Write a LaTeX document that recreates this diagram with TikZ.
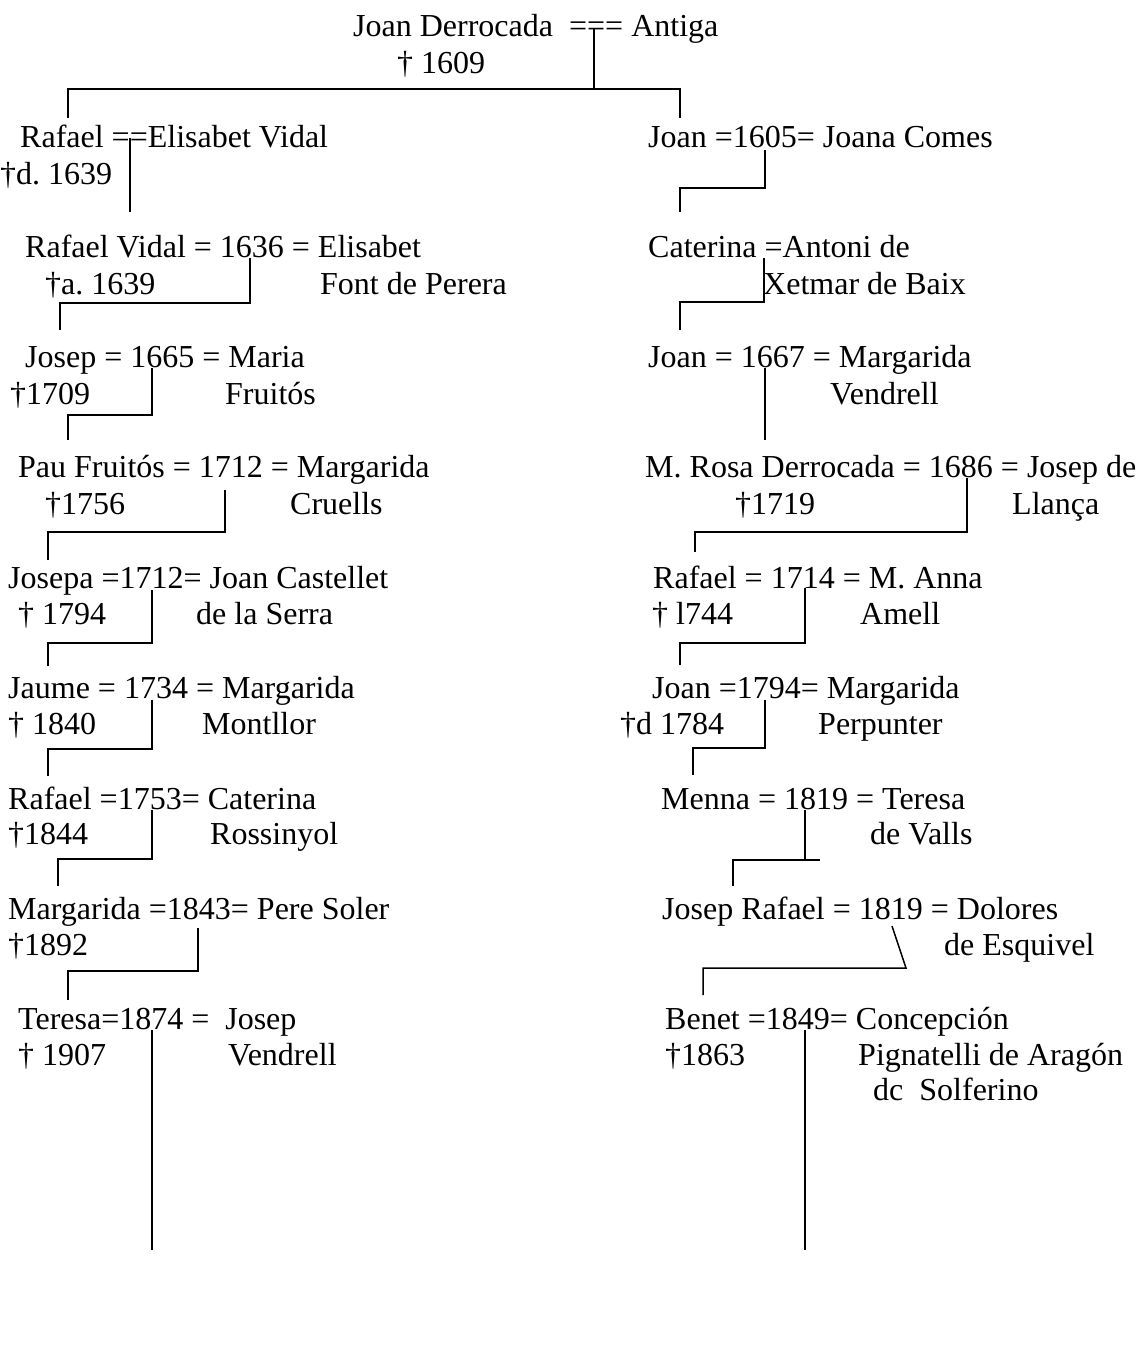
\documentclass[tikz,border=0pt]{standalone}
\usepackage{fontspec}
\setmainfont{Liberation Serif}
\usepackage{tikz}
\frenchspacing

\begin{document}
\begin{tikzpicture}[x=1pt, y=-1pt,
		person/.style={anchor=base west, inner sep=0pt, yshift=-2pt, font=\fontsize{32}{38}\selectfont},
		descent/.style={line width=1.5pt}]
		\useasboundingbox (0,0) rectangle (1143,1362);

		% Root couple
		\node[person] (top) at (353,35) {Joan Derrocada~\ === Antiga};
		\node[person] (topd) at (397,72) {† 1609};

		% Left line
		\node[person] (L1) at (20,145) {Rafael ==Elisabet Vidal};
		\node[person] (L1d) at (0,182) {†d. 1639};
		\node[person] (L2) at (25,255) {Rafael Vidal = 1636 = Elisabet};
		\node[person] (L2d) at (45,292) {†a. 1639};
		\node[person] (L2s) at (320,292) {Font de Perera};
		\node[person] (L3) at (25,365) {Josep = 1665 = Maria};
		\node[person] (L3d) at (10,402) {†1709};
		\node[person] (L3s) at (225,402) {Fruitós};
		\node[person] (L4) at (18,475) {Pau Fruitós = 1712 = Margarida};
		\node[person] (L4d) at (45,512) {†1756};
		\node[person] (L4s) at (290,512) {Cruells};
		\node[person] (L5) at (8,586) {Josepa =1712= Joan Castellet};
		\node[person] (L5d) at (18,622) {† 1794};
		\node[person] (L5s) at (196,622) {de la Serra};
		\node[person] (L6) at (8,696) {Jaume = 1734 = Margarida};
		\node[person] (L6d) at (8,732) {† 1840};
		\node[person] (L6s) at (202,732) {Montllor};
		\node[person] (L7) at (8,807) {Rafael =1753= Caterina};
		\node[person] (L7d) at (8,842) {†1844};
		\node[person] (L7s) at (210,842) {Rossinyol};
		\node[person] (L8) at (8,917) {Margarida =1843= Pere Soler};
		\node[person] (L8d) at (8,953) {†1892};
		\node[person] (L9) at (18,1027) {Teresa=1874 =~\ Josep};
		\node[person] (L9d) at (18,1063) {† 1907};
		\node[person] (L9s) at (228,1063) {Vendrell};

		% Right line
		\node[person] (R1) at (648,145) {Joan =1605= Joana Comes};
		\node[person] (R2) at (648,255) {Caterina =Antoni de};
		\node[person] (R2s) at (763,292) {Xetmar de Baix};
		\node[person] (R3) at (648,365) {Joan = 1667 = Margarida};
		\node[person] (R3s) at (830,402) {Vendrell};
		\node[person] (R4) at (645,475) {M. Rosa Derrocada = 1686 = Josep de};
		\node[person] (R4d) at (735,512) {†1719};
		\node[person] (R4s) at (1012,512) {Llança};
		\node[person] (R5) at (653,586) {Rafael = 1714 = M. Anna};
		\node[person] (R5d) at (652,622) {† l744};
		\node[person] (R5s) at (860,622) {Amell};
		\node[person] (R6) at (652,696) {Joan =1794= Margarida};
		\node[person] (R6d) at (620,732) {†d 1784};
		\node[person] (R6s) at (818,732) {Perpunter};
		\node[person] (R7) at (661,807) {Menna = 1819 = Teresa};
		\node[person] (R7s) at (870,842) {de Valls};
		\node[person] (R8) at (662,917) {Josep Rafael = 1819 = Dolores};
		\node[person] (R8s) at (944,953) {de Esquivel};
		\node[person] (R9) at (665,1027) {Benet =1849= Concepción};
		\node[person] (R9d) at (665,1063) {†1863};
		\node[person] (R9s) at (858,1063) {Pignatelli de Aragón};
		\node[person] (R9t) at (873,1098) {dc~\ Solferino};

		% Marriage points and child tops
		\coordinate (m0) at (594,28);
		\coordinate (b0) at (680,89);
		\coordinate (cL1) at (68,118);
		\coordinate (cR1) at (680,118);
		\coordinate (mL1) at (130,138);
		\coordinate (cL2) at (130,212);
		\coordinate (mR1) at (765,150);
		\coordinate (bR1) at (680,188);
		\coordinate (cR2) at (680,212);
		\coordinate (mL2) at (250,258);
		\coordinate (bL2) at (60,303);
		\coordinate (cL3) at (60,330);
		\coordinate (mR2) at (764,258);
		\coordinate (bR2) at (680,302);
		\coordinate (cR3) at (680,330);
		\coordinate (mL3) at (152,368);
		\coordinate (bL3) at (68,415);
		\coordinate (cL4) at (68,440);
		\coordinate (mR3) at (765,368);
		\coordinate (cR4) at (765,440);
		\coordinate (mL4) at (225,490);
		\coordinate (bL4) at (48,532);
		\coordinate (cL5) at (48,560);
		\coordinate (mR4) at (967,478);
		\coordinate (bR4) at (695,532);
		\coordinate (cR5) at (695,552);
		\coordinate (mL5) at (152,590);
		\coordinate (bL5) at (48,643);
		\coordinate (cL6) at (48,666);
		\coordinate (mR5) at (805,588);
		\coordinate (bR5) at (680,643);
		\coordinate (cR6) at (680,665);
		\coordinate (mL6) at (152,700);
		\coordinate (bL6) at (48,749);
		\coordinate (cL7) at (48,776);
		\coordinate (mR6) at (765,700);
		\coordinate (bR6) at (693,748);
		\coordinate (cR7) at (693,775);
		\coordinate (mL7) at (152,810);
		\coordinate (bL7) at (58,859);
		\coordinate (cL8) at (58,886);
		\coordinate (mR7) at (805,810);
		\coordinate (bR7) at (733,860);
		\coordinate (eR7) at (820,860);
		\coordinate (cR8) at (733,886);
		\coordinate (mL8) at (198,928);
		\coordinate (bL8) at (68,971);
		\coordinate (cL9) at (68,1000);
		\coordinate (mR8) at (892,926);
		\coordinate (eR8) at (906,968);
		\coordinate (bR8) at (703,968);
		\coordinate (cR9) at (703,995);
		\coordinate (mL9) at (152,1030);
		\coordinate (eL9) at (152,1250);
		\coordinate (mR9) at (805,1030);
		\coordinate (eR9) at (805,1250);

		% Descent lines
		\draw[descent] (m0) -- (m0 |- b0);
		\draw[descent] (cL1) |- (b0) -- (cR1);
		\draw[descent] (mL1) -- (cL2);
		\draw[descent] (mR1) |- (bR1) -- (cR2);
		\draw[descent] (mL2) |- (bL2) -- (cL3);
		\draw[descent] (mR2) |- (bR2) -- (cR3);
		\draw[descent] (mL3) |- (bL3) -- (cL4);
		\draw[descent] (mR3) -- (cR4);
		\draw[descent] (mL4) |- (bL4) -- (cL5);
		\draw[descent] (mR4) |- (bR4) -- (cR5);
		\draw[descent] (mL5) |- (bL5) -- (cL6);
		\draw[descent] (mR5) |- (bR5) -- (cR6);
		\draw[descent] (mL6) |- (bL6) -- (cL7);
		\draw[descent] (mR6) |- (bR6) -- (cR7);
		\draw[descent] (mL7) |- (bL7) -- (cL8);
		\draw[descent] (mR7) -- (mR7 |- eR7);
		\draw[descent] (eR7) -- (bR7) -- (cR8);
		\draw[descent] (mL8) |- (bL8) -- (cL9);
		\draw[descent] (mR8) -- (eR8) -- (bR8) -- (cR9);
		\draw[descent] (mL9) -- (eL9);
		\draw[descent] (mR9) -- (eR9);
	\end{tikzpicture}
\end{document}
